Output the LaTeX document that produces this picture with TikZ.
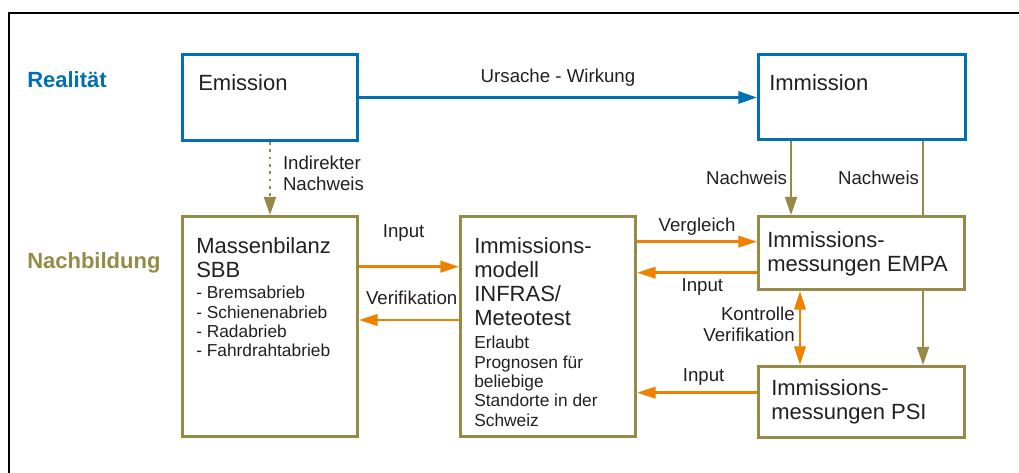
\documentclass[tikz,border=0pt]{standalone}
\usepackage{fontspec}
\setmainfont{Liberation Sans}
\usepackage{tikz}
\usetikzlibrary{arrows.meta,positioning}
\definecolor{realblau}{HTML}{0070B0}
\definecolor{nacholiv}{HTML}{958B46}
\definecolor{flussorange}{HTML}{F08000}
\definecolor{schrift}{HTML}{231F20}

\begin{document}
\begin{tikzpicture}[x=0.75pt, y=-0.75pt, inner sep=0pt, text=schrift,
  rbox/.style={draw=realblau, line width=2.25pt, minimum width=131.25pt, minimum height=64.5pt},
  nbox/.style={draw=nacholiv, line width=2.25pt, minimum width=131.25pt, minimum height=165pt},
  mbox/.style={draw=nacholiv, line width=2.25pt, minimum width=154.5pt, minimum height=54.75pt},
  gross/.style={align=left, font=\fontsize{16.5}{18}\selectfont},
  klein/.style={align=left, font=\fontsize{13}{14.5}\selectfont},
  lbl/.style={align=left, font=\fontsize{14}{16}\selectfont},
  ebene/.style={font=\fontsize{16.5}{18}\selectfont\bfseries},
  wirkung/.style={draw=realblau, line width=2.25pt, -{Triangle[length=14pt,width=9pt]}},
  nachweis/.style={draw=nacholiv, line width=1.5pt, -{Triangle[length=13.5pt,width=9pt]}},
  fluss/.style={draw=flussorange, line width=2pt, -{Triangle[length=14pt,width=8.5pt]}}]
  \useasboundingbox (0,0) rectangle (1019,473);
  \draw[line width=1.5pt] (1019,13) -- (9,13) -- (9,473);

  \node[ebene, text=realblau, anchor=base west] (realitaet) at (27,87.7) {Realität};
  \node[ebene, text=nacholiv, anchor=base west] (nachbildung) at (27,268.3) {Nachbildung};

  \node[rbox, anchor=north west] (emission) at (181,53) {};
  \node[rbox, minimum width=155.25pt, minimum height=63.75pt, right=298.5pt of emission] (immission) {};
  \node[nbox, below=54.75pt of emission] (massen) {};
  \node[nbox, right=75pt of massen] (modell) {};
  \node[mbox, right=90pt of modell.north east, anchor=north west] (empa) {};
  \node[mbox, minimum height=53.25pt, below=55.5pt of empa] (psi) {};

  \node[gross, below right=15.75pt and 12.75pt of emission.north west] (emissiontxt) {Emission};
  \node[gross, below right=15.75pt and 9pt of immission.north west] (immissiontxt) {Immission};
  \node[gross, below right=16.5pt and 11.25pt of massen.north west] (massentxt) {Massenbilanz\\SBB};
  \node[klein, below right=53.25pt and 11.25pt of massen.north west] (massenliste) {- Bremsabrieb\\- Schienenabrieb\\- Radabrieb\\- Fahrdrahtabrieb};
  \node[gross, below right=16.5pt and 11.25pt of modell.north west] (modelltxt) {Immissions-\\modell\\INFRAS/\\Meteotest};
  \node[klein, below right=90.75pt and 11.25pt of modell.north west] (modellinfo) {Erlaubt\\Prognosen für\\beliebige\\Standorte in der\\Schweiz};
  \node[gross, below right=12pt and 7.5pt of empa.north west] (empatxt) {Immissions-\\messungen EMPA};
  \node[gross, below right=10.5pt and 10.5pt of psi.north west] (psitxt) {Immissions-\\messungen PSI};

  \draw[wirkung] (emission) -- node[lbl, above=7.5pt] (ursache) {Ursache - Wirkung} (immission);
  \draw[nachweis, dash pattern=on 2pt off 3.5pt] (emission.south) -- node[lbl, right=9pt, yshift=3.75pt] (indirekt) {Indirekter\\Nachweis} (massen.north);
  \draw[nachweis] ([xshift=25.5pt]immission.south west) -- node[lbl, left=2.25pt] (nachweisa) {Nachweis} ([xshift=25.5pt]empa.north west);
  \draw[draw=nacholiv, line width=1.5pt] ([xshift=124.5pt]immission.south west) -- node[lbl, left=2.25pt] (nachweisb) {Nachweis} ([xshift=124.5pt]empa.north west);
  \draw[nachweis] ([xshift=124.5pt]empa.south west) -- ([xshift=124.5pt]psi.north west);

  \draw[fluss] ([yshift=-38.75pt]massen.north east) -- node[lbl, above=17.8pt, xshift=-4pt] (inputa) {Input} ([yshift=-38.75pt]massen.north east -| modell.west);
  \draw[fluss] ([yshift=-78.75pt]modell.north west) -- node[lbl, above=10.7pt, xshift=2pt] (verifa) {Verifikation} ([yshift=-78.75pt]modell.north west -| massen.east);
  \draw[fluss] ([yshift=-20pt]modell.north east) -- node[lbl, above=3.4pt] (vergleich) {Vergleich} ([yshift=-20pt]modell.north east -| empa.west);
  \draw[fluss] ([yshift=-43.25pt]empa.north west) -- node[lbl, below=3.75pt, xshift=4pt] (inputb) {Input} ([yshift=-43.25pt]empa.north west -| modell.east);
  \draw[fluss, {Triangle[length=14pt,width=8.5pt]}-{Triangle[length=14pt,width=8.5pt]}] ([xshift=32.25pt]empa.south west) -- node[lbl, align=right, left=3pt, yshift=3pt] (kontrolle) {Kontrolle\\Verifikation} ([xshift=32.25pt]psi.north west);
  \draw[fluss] ([yshift=-20.75pt]psi.north west) -- node[lbl, above=4.5pt, xshift=5pt] (inputc) {Input} ([yshift=-20.75pt]psi.north west -| modell.east);
\end{tikzpicture}
\end{document}
